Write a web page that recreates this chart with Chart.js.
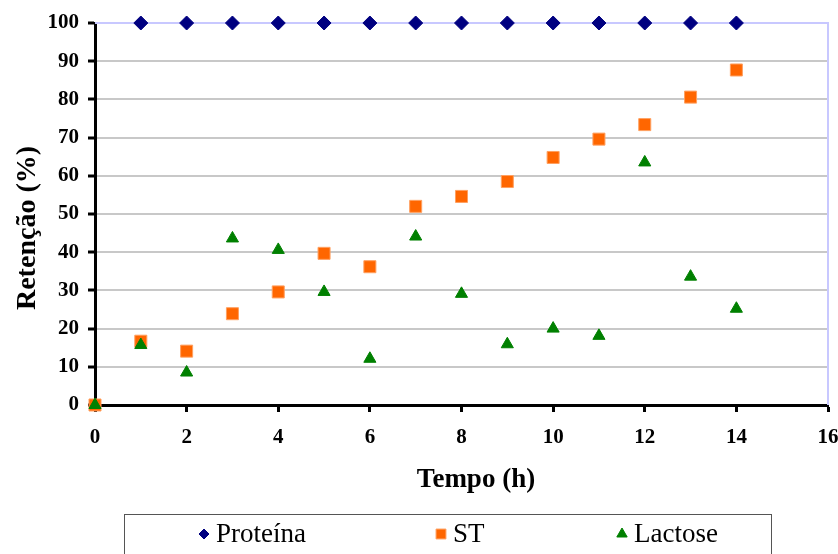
<!DOCTYPE html>
<html lang="pt">
<head>
    <meta charset="UTF-8">
    <title>Retenção</title>
    <style>
        html, body {
            margin: 0;
            padding: 0;
            background: #fff;
        }
        #wrap {
            width: 838px;
            height: 554px;
            position: relative;
        }
    </style>
    <script src="https://cdn.jsdelivr.net/npm/chart.js"></script>
</head>
<body>
<div id="wrap">
    <canvas id="retencaoChart" width="838" height="554"></canvas>
</div>
<script>
    // tempo em horas
    const tempo = [0, 1, 2, 3, 4, 5, 6, 7, 8, 9, 10, 11, 12, 13, 14];
    // retenção (%) por série
    const proteina = [null, 100, 100, 100, 100, 100, 100, 100, 100, 100, 100, 100, 100, 100, 100];
    const st = [0, 16.7, 14.1, 23.9, 29.6, 39.7, 36.2, 52.0, 54.6, 58.5, 64.8, 69.6, 73.4, 80.6, 87.7];
    const lactose = [0, 15.7, 8.5, 43.6, 40.6, 29.6, 12.1, 44.1, 29.1, 15.9, 20.0, 18.1, 63.5, 33.6, 25.2];

    const xTicks = [0, 2, 4, 6, 8, 10, 12, 14, 16];
    const yTicks = [0, 10, 20, 30, 40, 50, 60, 70, 80, 90, 100];

    function pontos(valores) {
        return tempo.map(function (t, i) {
            return { x: t, y: valores[i] };
        }).filter(function (p) { return p.y !== null; });
    }

    const serif = 'Liberation Serif, Times New Roman, serif';

    // contorno superior e direito da área do gráfico
    const molduraPlugin = {
        id: 'moldura',
        beforeDatasetsDraw(chart) {
            const { ctx, chartArea: a } = chart;
            ctx.save();
            ctx.strokeStyle = '#c8c8ff';
            ctx.lineWidth = 2;
            ctx.beginPath();
            ctx.moveTo(a.left, a.top);
            ctx.lineTo(a.right, a.top);
            ctx.lineTo(a.right, a.bottom);
            ctx.stroke();
            ctx.restore();
        }
    };

    // títulos dos eixos e legenda em caixa
    const legendaPlugin = {
        id: 'legendaCaixa',
        afterDraw(chart) {
            const ctx = chart.ctx;
            ctx.save();
            ctx.fillStyle = '#000';
            ctx.font = 'bold 27px ' + serif;
            ctx.textAlign = 'center';
            ctx.textBaseline = 'middle';
            ctx.fillText('Tempo (h)', 476, 480);

            ctx.save();
            ctx.translate(28, 228);
            ctx.rotate(-Math.PI / 2);
            ctx.font = 'bold 28px ' + serif;
            ctx.fillText('Retenção (%)', 0, 0);
            ctx.restore();

            const posX = [204, 441, 622];
            const y = 534;
            ctx.strokeStyle = '#555';
            ctx.lineWidth = 1;
            ctx.strokeRect(124.5, 514.5, 647, 60);
            ctx.font = '27px ' + serif;
            ctx.textAlign = 'left';
            chart.data.datasets.forEach(function (ds, i) {
                const x = posX[i];
                ctx.fillStyle = ds.backgroundColor;
                ctx.strokeStyle = ds.borderColor;
                ctx.lineWidth = 1;
                Chart.helpers.drawPoint(ctx, {
                    pointStyle: ds.pointStyle,
                    radius: ds.legendRadius,
                    borderWidth: 1
                }, x, y);
                ctx.fillStyle = '#000';
                ctx.fillText(ds.label, x + 12, y + 1);
            });
            ctx.restore();
        }
    };

    const ctx = document.getElementById('retencaoChart').getContext('2d');
    new Chart(ctx, {
        type: 'scatter',
        data: {
            datasets: [
                {
                    label: 'Proteína',
                    data: pontos(proteina),
                    order: 0,
                    pointStyle: 'rectRot',
                    pointRadius: 7,
                    legendRadius: 5,
                    backgroundColor: '#000080',
                    borderColor: '#000080',
                    borderWidth: 1,
                    clip: false
                },
                {
                    label: 'ST',
                    data: pontos(st),
                    order: 2,
                    pointStyle: 'rect',
                    pointRadius: 8.5,
                    legendRadius: 7,
                    backgroundColor: '#ff6600',
                    borderColor: '#ffa060',
                    borderWidth: 1,
                    clip: false
                },
                {
                    label: 'Lactose',
                    data: pontos(lactose),
                    order: 1,
                    pointStyle: 'triangle',
                    pointRadius: 7,
                    legendRadius: 6,
                    backgroundColor: '#008000',
                    borderColor: '#008000',
                    borderWidth: 1,
                    clip: false
                }
            ]
        },
        options: {
            responsive: false,
            animation: false,
            layout: {
                padding: { left: 0, right: 0, top: 23, bottom: 54 }
            },
            plugins: {
                legend: { display: false },
                tooltip: { enabled: false }
            },
            scales: {
                x: {
                    type: 'linear',
                    min: 0,
                    max: 16,
                    afterBuildTicks(scale) {
                        scale.ticks = xTicks.map(function (v) { return { value: v }; });
                    },
                    afterFit(scale) {
                        scale.height = 95;
                        scale.paddingLeft = 0;
                        scale.paddingRight = 10;
                    },
                    border: { color: '#000', width: 3 },
                    grid: {
                        drawOnChartArea: false,
                        tickColor: '#000',
                        tickWidth: 3,
                        tickLength: 7
                    },
                    ticks: {
                        color: '#000',
                        padding: 13,
                        font: { family: serif, size: 21, weight: 'bold' }
                    }
                },
                y: {
                    min: 0,
                    max: 100,
                    afterBuildTicks(scale) {
                        scale.ticks = yTicks.map(function (v) { return { value: v }; });
                    },
                    afterFit(scale) {
                        scale.width = 95;
                    },
                    border: { color: '#000', width: 3 },
                    grid: {
                        color: '#c8c8c8',
                        lineWidth: 2,
                        tickColor: '#000',
                        tickWidth: 3,
                        tickLength: 7
                    },
                    ticks: {
                        color: '#000',
                        padding: 9,
                        font: { family: serif, size: 21, weight: 'bold' }
                    }
                }
            }
        },
        plugins: [molduraPlugin, legendaPlugin]
    });
</script>
</body>
</html>
